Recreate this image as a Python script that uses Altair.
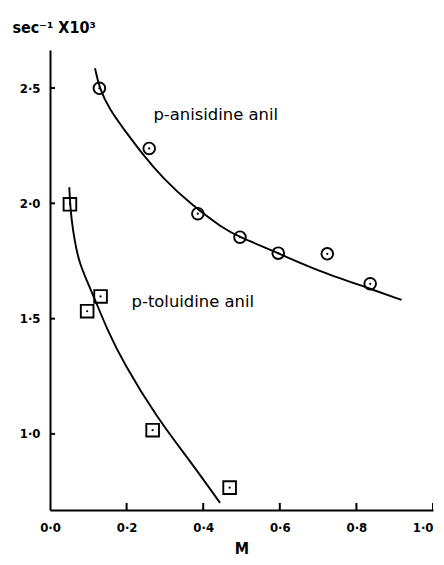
import altair as alt
import pandas as pd

# ---- data ----
anis_x = [0.129, 0.259, 0.386, 0.496, 0.596, 0.724, 0.836]
anis_y = [2.499, 2.238, 1.955, 1.853, 1.784, 1.781, 1.651]
tol_x = [0.052, 0.097, 0.132, 0.268, 0.469]
tol_y = [1.996, 1.532, 1.596, 1.016, 0.767]

anis_curve_x = [0.1175, 0.1287, 0.1567, 0.1914, 0.2436, 0.2958, 0.3655, 0.4525,
                0.4961, 0.596, 0.696, 0.836, 0.918]
anis_curve_y = [2.586, 2.499, 2.404, 2.325, 2.209, 2.107, 1.999, 1.890,
                1.853, 1.784, 1.709, 1.630, 1.581]
tol_curve_x = [0.0504, 0.053, 0.060, 0.070, 0.0783, 0.0958, 0.1131, 0.150,
               0.1914, 0.2786, 0.3655, 0.4439]
tol_curve_y = [2.07, 1.98, 1.88, 1.79, 1.738, 1.665, 1.600, 1.45,
               1.310, 1.071, 0.883, 0.701]

x_ticks = [0.0, 0.2, 0.4, 0.6, 0.8, 1.0]
y_ticks = [1.0, 1.5, 2.0, 2.5]

label_text = ["p-anisidine anil", "p-toluidine anil"]
label_x = [0.270, 0.213]
label_y = [2.361, 1.550]

X_MIN, X_MAX = 0.0, 1.0
Y_MIN, Y_MAX = 0.67, 2.665

FONT = "DejaVu Sans Condensed"
TXT_FONT = "DejaVu Sans"

pts_anis = pd.DataFrame({"x": anis_x, "y": anis_y})
pts_tol = pd.DataFrame({"x": tol_x, "y": tol_y})
cur_anis = pd.DataFrame({"x": anis_curve_x, "y": anis_curve_y})
cur_tol = pd.DataFrame({"x": tol_curve_x, "y": tol_curve_y})
xt_df = pd.DataFrame({"x": x_ticks[1:], "y": [Y_MIN] * (len(x_ticks) - 1)})
yt_df = pd.DataFrame({"x": [X_MIN] * len(y_ticks), "y": y_ticks})
lab_df = pd.DataFrame({"x": label_x, "y": label_y, "t": label_text})

XS = alt.Scale(domain=[X_MIN, X_MAX], nice=False, zero=False)
YS = alt.Scale(domain=[Y_MIN, Y_MAX], nice=False, zero=False)

lab_expr = "replace(format(datum.value, '.1f'), '.', '·')"

XAX = alt.Axis(values=x_ticks, labelExpr=lab_expr, tickSize=0, grid=False,
               domainColor="black", domainWidth=2, labelColor="black",
               labelFont=FONT, labelFontSize=13, labelFontWeight="bold",
               labelFlush=False,
               labelAlign={"condition": {"test": "datum.value >= 1", "value": "right"},
                           "value": "center"},
               labelPadding=11, title="M", titleFont=FONT, titleFontSize=16,
               titleFontWeight="bold", titleColor="black", titlePadding=6)
YAX = alt.Axis(values=y_ticks, labelExpr=lab_expr, tickSize=0, grid=False,
               domainColor="black", domainWidth=2, labelColor="black",
               labelFont=FONT, labelFontSize=13, labelFontWeight="bold",
               labelFlush=False,
               labelPadding=10, title="sec⁻¹ X10³", titleFont=FONT,
               titleFontSize=16, titleFontWeight="bold", titleColor="black",
               titleAngle=0, titleAlign="left", titleBaseline="alphabetic",
               titleX=-38, titleY=-18)


def enc(ch):
    return ch.encode(
        x=alt.X("x:Q", scale=XS, axis=XAX),
        y=alt.Y("y:Q", scale=YS, axis=YAX),
    )


curves = [
    enc(alt.Chart(d).mark_line(color="black", strokeWidth=1.9, interpolate="basis"))
    for d in (cur_anis, cur_tol)
]
circ = enc(alt.Chart(pts_anis).mark_point(shape="circle", size=135, filled=False,
                                          color="black", strokeWidth=1.9, opacity=1))
sq = enc(alt.Chart(pts_tol).mark_point(shape="square", size=160, filled=False,
                                       color="black", strokeWidth=1.9, opacity=1))
dots = [
    enc(alt.Chart(d).mark_point(shape="circle", size=5, filled=True, color="black", opacity=1))
    for d in (pts_anis, pts_tol)
]
xt = enc(alt.Chart(xt_df).mark_tick(orient="vertical", size=14, thickness=2,
                                    color="black", clip=True, opacity=1))
yt = enc(alt.Chart(yt_df).mark_tick(orient="horizontal", size=10, thickness=2,
                                    color="black", clip=True, opacity=1))
texts = alt.Chart(lab_df).mark_text(align="left", baseline="alphabetic", font=TXT_FONT,
                                    fontSize=16.4, color="black").encode(
    x=alt.X("x:Q", scale=XS, axis=XAX),
    y=alt.Y("y:Q", scale=YS, axis=YAX),
    text="t:N",
)

chart = alt.layer(*curves, circ, sq, *dots, xt, yt, texts).properties(
    width=383, height=460,
    autosize=alt.AutoSizeParams(type="none"),
    padding={"left": 42, "top": 42, "right": 3, "bottom": 47},
    background="white",
).configure_view(stroke=None)

chart.save("out.html", embed_options={"renderer": "svg", "actions": False})
